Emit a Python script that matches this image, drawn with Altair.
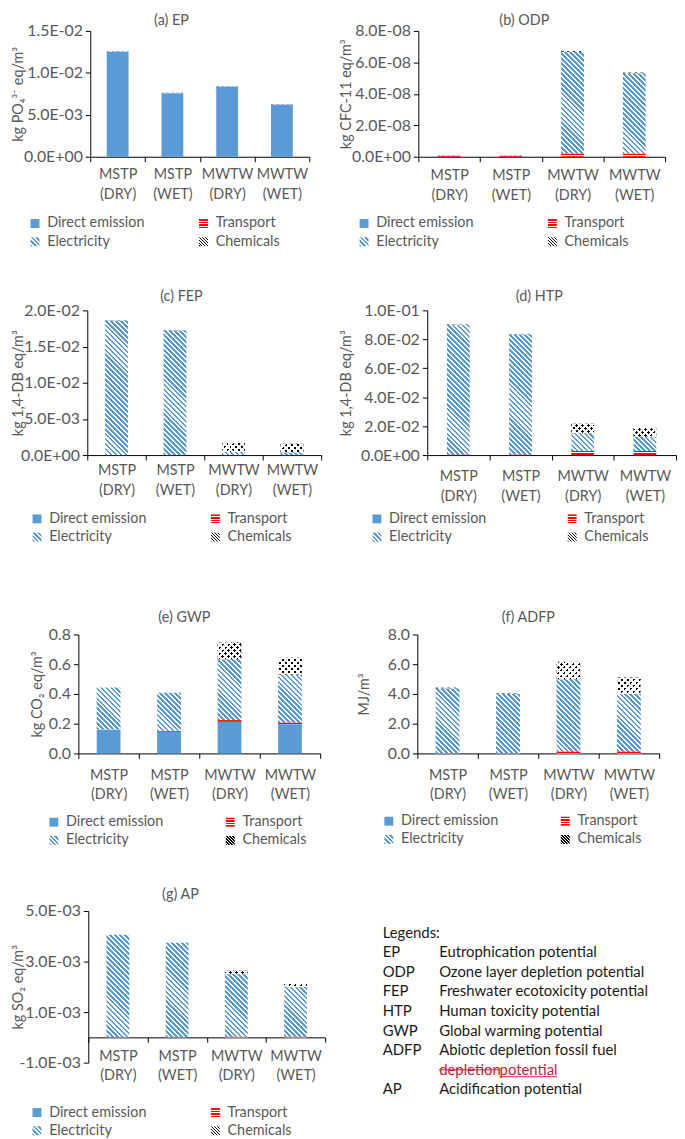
import math
import altair as alt

FONT = "Lato"
GRAY = "#595959"
BLUE = "#5B9BD5"
RED = "#FF0000"
BLACK = "#000000"
WHITE = "#FFFFFF"
CLEAR = "rgba(255,255,255,0)"
TXT = "#1a1a1a"
TRACK = "#C8203C"

CATS = ["MSTP (DRY)", "MSTP (WET)", "MWTW (DRY)", "MWTW (WET)"]
SOURCES = ["Direct emission", "Transport", "Electricity", "Chemicals"]
LEGEND_ORDER = ["Direct emission", "Electricity", "Transport", "Chemicals"]

# ---- values (order of CATS) ----
EP_DIRECT = [0.01253, 0.00758, 0.00833, 0.00621]
EP_TRANSPORT = [0.00001, 0.00001, 0.00002, 0.00002]
EP_ELECTRICITY = [0.00007, 0.00006, 0.00006, 0.00005]
EP_CHEMICALS = [0.0, 0.0, 0.00001, 0.00001]

ODP_DIRECT = [0.0, 0.0, 0.0, 0.0]
ODP_TRANSPORT = [6e-10, 6e-10, 2.0e-9, 2.0e-9]
ODP_ELECTRICITY = [2e-10, 2e-10, 6.46e-8, 5.11e-8]
ODP_CHEMICALS = [0.0, 0.0, 5e-10, 4e-10]

FEP_DIRECT = [0.0, 0.0, 0.0, 0.0]
FEP_TRANSPORT = [0.00002, 0.00002, 0.00003, 0.00003]
FEP_ELECTRICITY = [0.01857, 0.01722, 0.00040, 0.00032]
FEP_CHEMICALS = [0.00003, 0.00003, 0.00137, 0.00125]

HTP_DIRECT = [0.0, 0.0, 0.0, 0.0]
HTP_TRANSPORT = [0.0004, 0.0004, 0.0028, 0.0028]
HTP_ELECTRICITY = [0.0899, 0.0831, 0.0123, 0.0099]
HTP_CHEMICALS = [0.0002, 0.0002, 0.0066, 0.0060]

GWP_DIRECT = [0.161, 0.146, 0.213, 0.197]
GWP_TRANSPORT = [0.002, 0.005, 0.011, 0.011]
GWP_ELECTRICITY = [0.281, 0.257, 0.410, 0.323]
GWP_CHEMICALS = [0.0, 0.0, 0.112, 0.112]

ADFP_DIRECT = [0.0, 0.0, 0.0, 0.0]
ADFP_TRANSPORT = [0.02, 0.02, 0.13, 0.13]
ADFP_ELECTRICITY = [4.36, 4.00, 4.86, 3.86]
ADFP_CHEMICALS = [0.04, 0.03, 1.17, 1.12]

AP_DIRECT = [0.0, 0.0, 0.0, 0.0]
AP_TRANSPORT = [0.00001, 0.00001, 0.00003, 0.00003]
AP_ELECTRICITY = [0.00405, 0.00373, 0.00247, 0.00196]
AP_CHEMICALS = [0.0, 0.0, 0.00014, 0.00016]

EP_TICKS = [0, 0.005, 0.01, 0.015]
ODP_TICKS = [0, 2e-8, 4e-8, 6e-8, 8e-8]
FEP_TICKS = [0, 0.005, 0.01, 0.015, 0.02]
HTP_TICKS = [0, 0.02, 0.04, 0.06, 0.08, 0.1]
GWP_TICKS = [0, 0.2, 0.4, 0.6, 0.8]
ADFP_TICKS = [0, 2, 4, 6, 8]
AP_TICKS = [-0.001, 0.001, 0.003, 0.005]

ABBR = ["EP", "ODP", "FEP", "HTP", "GWP", "ADFP", "AP"]
DESC = ["Eutrophication potential", "Ozone layer depletion potential",
        "Freshwater ecotoxicity potential", "Human toxicity potential",
        "Global warming potential", "Abiotic depletion fossil fuel",
        "Acidification potential"]
DESC_ROW = [1, 2, 3, 4, 5, 6, 8]
TRACK_DEL = "depletion"
TRACK_INS = "potential"

# ---- style helpers ----
FS = 14.5
FS_Y = 16


def stripe_stops(length, period, frac, c_on, c_off):
    stops = []
    if length <= 0:
        return [{"offset": 0, "color": c_on}, {"offset": 1, "color": c_on}]
    n = int(math.ceil(length / period))
    for i in range(n):
        a = min(i * period / length, 1.0)
        b = min((i + frac) * period / length, 1.0)
        c = min((i + 1) * period / length, 1.0)
        stops += [{"offset": round(a, 5), "color": c_on},
                  {"offset": round(b, 5), "color": c_on},
                  {"offset": round(b, 5), "color": c_off},
                  {"offset": round(c, 5), "color": c_off}]
    return stops


def diag(w, h, kind, period, frac, c_on, c_off):
    k = (w + h) / (w * w + h * h)
    if kind == "back":   # "\" stripes
        g = {"gradient": "linear", "x1": 0, "y1": 1, "x2": k * w, "y2": 1 - k * h}
    else:                # "/" stripes
        g = {"gradient": "linear", "x1": 0, "y1": 0, "x2": k * w, "y2": k * h}
    g["stops"] = stripe_stops(w + h, period, frac, c_on, c_off)
    return g


def hstripes(h, period, frac, c_on, c_off):
    return {"gradient": "linear", "x1": 0.5, "y1": 0, "x2": 0.5, "y2": 1,
            "stops": stripe_stops(h, period, frac, c_on, c_off)}


def seg_grads(src, val, pxu, bw):
    if val <= 0 or src == "Direct emission":
        return None, None
    h = val * pxu
    if src == "Electricity":
        return diag(bw, h, "back", 5.0, 0.55, BLUE, WHITE), None
    if src == "Transport":
        return hstripes(h, 2.4, 0.6, RED, WHITE), None
    return (diag(bw, h, "back", 6.0, 0.5, BLACK, WHITE),
            diag(bw, h, "fwd", 6.0, 0.45, CLEAR, WHITE))


def js(g):
    stops = ",".join("{offset:%s,color:'%s'}" % (s["offset"], s["color"]) for s in g["stops"])
    return "{gradient:'linear',x1:%s,y1:%s,x2:%s,y2:%s,stops:[%s]}" % (
        g["x1"], g["y1"], g["x2"], g["y2"], stops)


LEG_PATTERNS = {
    "Direct emission": BLUE,
    "Electricity": alt.ExprRef(js(diag(9, 9, "back", 4.5, 0.55, BLUE, WHITE))),
    "Transport": alt.ExprRef(js(hstripes(9, 9 / 3.5, 0.6, RED, WHITE))),
    "Chemicals": alt.ExprRef(js(diag(9, 9, "back", 3.0, 0.4, BLACK, WHITE))),
}
LEG_RANGE = [LEG_PATTERNS[s] for s in LEGEND_ORDER]

E = "floor(log(abs(datum.value))/LN10 + 1e-9)"
SCI = ("datum.value == 0 ? '0.0E+00' : (datum.value < 0 ? '-' : '') + "
       "format(abs(datum.value) / pow(10, {E}), '.1f') + 'E' + "
       "({E} < 0 ? '-' : '+') + (abs({E}) < 10 ? '0' : '') + abs({E})").format(E=E)
DEC = "format(datum.value, '.1f')"

COL1_X, COL2_X = 90, 424
PAD_LEFT = 3

# layout of each panel (page pixels of the reference)
PANELS = [
    dict(title="(a) EP", ytitle="kg PO\u2084\u00b3\u207b eq/m\u00b3", vals=[EP_DIRECT, EP_TRANSPORT, EP_ELECTRICITY, EP_CHEMICALS],
         dom=[0, 0.015], ticks=EP_TICKS, fmt=SCI, org=COL1_X, px0=90, px1=311, ph=127, cell=127, bw=22,
         tcx=172, tabove=9, ytx=18, lx=27, lyb=65, tx=188, lpad=6),
    dict(title="(b) ODP", ytitle="kg CFC-11 eq/m\u00b3", vals=[ODP_DIRECT, ODP_TRANSPORT, ODP_ELECTRICITY, ODP_CHEMICALS],
         dom=[0, 8e-8], ticks=ODP_TICKS, fmt=SCI, org=COL2_X, px0=421, px1=670, ph=127, cell=127, bw=23,
         tcx=528, tabove=9, ytx=349, lx=359, lyb=65, tx=540, lpad=7),
    dict(title="(c) FEP", ytitle="kg 1,4-DB eq/m\u00b3", vals=[FEP_DIRECT, FEP_TRANSPORT, FEP_ELECTRICITY, FEP_CHEMICALS],
         dom=[0, 0.02], ticks=FEP_TICKS, fmt=SCI, org=COL1_X, px0=87, px1=323, ph=146, cell=172, bw=23,
         tcx=182, tabove=13, ytx=18, lx=29, lyb=62, tx=200, lpad=4),
    dict(title="(d) HTP", ytitle="kg 1,4-DB eq/m\u00b3", vals=[HTP_DIRECT, HTP_TRANSPORT, HTP_ELECTRICITY, HTP_CHEMICALS],
         dom=[0, 0.1], ticks=HTP_TICKS, fmt=SCI, org=COL2_X, px0=430, px1=681, ph=146, cell=172, bw=23,
         tcx=543, tabove=13, ytx=349, lx=372, lyb=62, tx=560, lpad=10),
    dict(title="(e)  GWP", ytitle="kg CO\u2082 eq/m\u00b3", vals=[GWP_DIRECT, GWP_TRANSPORT, GWP_ELECTRICITY, GWP_CHEMICALS],
         dom=[0, 0.8], ticks=GWP_TICKS, fmt=DEC, org=COL1_X, px0=78, px1=322, ph=120, cell=124, bw=24,
         tcx=185, tabove=16, ytx=37, lx=46, lyb=67, tx=215, lpad=10),
    dict(title="(f)  ADFP", ytitle="MJ/m\u00b3", vals=[ADFP_DIRECT, ADFP_TRANSPORT, ADFP_ELECTRICITY, ADFP_CHEMICALS],
         dom=[0, 8], ticks=ADFP_TICKS, fmt=DEC, org=COL2_X, px0=420, px1=664, ph=120, cell=124, bw=24,
         tcx=532, tabove=16, ytx=367, lx=384, lyb=66, tx=553, lpad=10),
    dict(title="(g) AP", ytitle="kg SO\u2082 eq/m\u00b3", vals=[AP_DIRECT, AP_TRANSPORT, AP_ELECTRICITY, AP_CHEMICALS],
         dom=[-0.001, 0.005], ticks=AP_TICKS, fmt=SCI, org=COL1_X, px0=88, px1=327, ph=153, cell=153, bw=23,
         tcx=181, tabove=16, ytx=18, lx=29, lyb=48, tx=200, lpad=7),
]

LABEL_W = 95  # estimated width of "Direct emission"


def make_panel(p):
    pxu = p["ph"] / (p["dom"][1] - p["dom"][0])
    rows = []
    for ci, cat in enumerate(CATS):
        for si, src in enumerate(SOURCES):
            v = p["vals"][si][ci]
            g1, g2 = seg_grads(src, v, pxu, p["bw"])
            rows.append({"cat": cat, "source": src, "order": si, "value": v, "g1": g1, "g2": g2})
    width = p["px1"] - p["org"]
    xr0 = p["px0"] - p["org"]          # where the plot starts relative to the cell origin
    zero_px = p["ph"] * p["dom"][1] / (p["dom"][1] - p["dom"][0])
    x_off = -(p["cell"] - zero_px)
    x_axis = alt.Axis(title=None, labelAngle=0, labelExpr="split(datum.label, ' ')",
                      tickBand="extent", tickSize=5, tickColor=BLACK, domainColor=BLACK,
                      labelColor=GRAY, labelFont=FONT, labelFontSize=FS, labelLineHeight=20,
                      labelPadding=p["lpad"], offset=x_off, grid=False)
    y_axis = alt.Axis(title=p["ytitle"], values=p["ticks"], labelExpr=p["fmt"], grid=False,
                      tickSize=5, tickColor=BLACK, domainColor=BLACK, labelColor=GRAY,
                      labelFont=FONT, labelFontSize=FS_Y, labelPadding=3, labelFlush=False,
                      labelOverlap=False, titleFont=FONT, titleFontSize=FS, titleFontWeight="normal",
                      titleColor=GRAY, titleX=(p["ytx"] - p["px0"]) + 7, titleY=p["ph"] / 2,
                      offset=-xr0)
    x_enc = alt.X("cat:N", scale=alt.Scale(type="band", domain=CATS, paddingInner=0, paddingOuter=0,
                                           range=[xr0, width]), axis=x_axis)
    y_enc = alt.Y("v0:Q", scale=alt.Scale(domain=p["dom"], range=[p["ph"], 0], nice=False, zero=False), axis=y_axis)
    y2_enc = alt.Y2("v1:Q")
    colpad = (p["tx"] - p["lx"]) - (9 + 5 + LABEL_W)
    legend = alt.Legend(title=None, orient="none", legendX=p["lx"] - p["org"], legendY=p["ph"] + p["lyb"] - 5,
                        columns=2, columnPadding=colpad, rowPadding=3.5, symbolType="square",
                        symbolSize=81, symbolStrokeWidth=0, labelFont=FONT, labelFontSize=FS,
                        labelColor=GRAY, labelOffset=5, padding=0)
    base = alt.Chart().mark_bar(size=p["bw"]).encode(
        x=x_enc, y=y_enc, y2=y2_enc,
        color=alt.Color("source:N", scale=alt.Scale(domain=LEGEND_ORDER, range=LEG_RANGE), legend=legend),
    ).transform_filter("datum.source == 'Direct emission'")
    ov1 = alt.Chart().mark_bar(size=p["bw"]).encode(
        x=x_enc, y=y_enc, y2=y2_enc, fill=alt.Fill("g1:N", scale=None)
    ).transform_filter("datum.g1 != null")
    ov2 = alt.Chart().mark_bar(size=p["bw"]).encode(
        x=x_enc, y=y_enc, y2=y2_enc, fill=alt.Fill("g2:N", scale=None)
    ).transform_filter("datum.g2 != null")
    title = alt.TitleParams(text=p["title"], anchor="middle", frame="group",
                            dx=p["tcx"] - (p["org"] + width / 2), offset=p["tabove"] - 15,
                            font=FONT, fontSize=FS, fontWeight="normal", color=GRAY)
    return alt.layer(base, ov1, ov2, data=alt.Data(values=rows)).transform_stack(
        stack="value", groupby=["cat"], sort=[alt.SortField("order", "ascending")], as_=["v0", "v1"]
    ).properties(width=width, height=p["cell"], title=title)


panels = [make_panel(p) for p in PANELS]

# ---- abbreviations text block ----
txt_rows = [{"idx": 0, "abbr": "Legends:", "desc": ""}] + [
    {"idx": r, "abbr": a, "desc": d} for r, a, d in zip(DESC_ROW, ABBR, DESC)]
track_rows = [{"idx": 7, "del": TRACK_DEL, "ins": TRACK_INS}]
ty = alt.Y("idx:Q", scale=alt.Scale(domain=[0, 8], range=[22, 180]), axis=None)
TX_ABBR = 385 - COL2_X
TX_DESC = 442 - COL2_X
t_abbr = alt.Chart(alt.Data(values=txt_rows)).mark_text(
    align="left", baseline="middle", font=FONT, fontSize=15, color=TXT
).encode(x=alt.value(TX_ABBR), y=ty, text="abbr:N")
t_desc = alt.Chart(alt.Data(values=txt_rows)).mark_text(
    align="left", baseline="middle", font=FONT, fontSize=15, color=TXT
).encode(x=alt.value(TX_DESC), y=ty, text="desc:N")
t_del = alt.Chart(alt.Data(values=track_rows)).mark_text(
    align="left", baseline="middle", font=FONT, fontSize=15, color=TRACK
).encode(x=alt.value(TX_DESC), y=ty, text="del:N")
t_ins = alt.Chart(alt.Data(values=track_rows)).mark_text(
    align="left", baseline="middle", font=FONT, fontSize=15, color=TRACK
).encode(x=alt.value(TX_DESC + 61), y=ty, text="ins:N")
r_del = alt.Chart(alt.Data(values=track_rows)).mark_rule(color=TRACK, strokeWidth=1).encode(
    x=alt.value(TX_DESC), x2=alt.value(TX_DESC + 61), y=ty)
r_ins = alt.Chart(alt.Data(values=track_rows)).mark_rule(color=TRACK, strokeWidth=1, yOffset=7).encode(
    x=alt.value(TX_DESC + 61), x2=alt.value(TX_DESC + 119), y=ty)
text_block = alt.layer(t_abbr, t_desc, t_del, t_ins, r_del, r_ins).properties(width=240, height=153)

ROW_SP = 155
COL_SP = COL2_X - COL1_X - max(p["px1"] - p["org"] for p in PANELS if p["org"] == COL1_X)

chart = alt.concat(
    *panels, text_block, columns=2, spacing={"row": ROW_SP, "column": COL_SP},
    bounds="flush", align="each"
).resolve_scale(
    x="independent", y="independent", color="independent"
).resolve_legend(color="independent").properties(
    padding={"left": PAD_LEFT, "top": 0, "right": 0, "bottom": 0}, background="white"
).configure_view(stroke=None)

chart.save("out.html", embed_options={"renderer": "svg", "actions": False})
